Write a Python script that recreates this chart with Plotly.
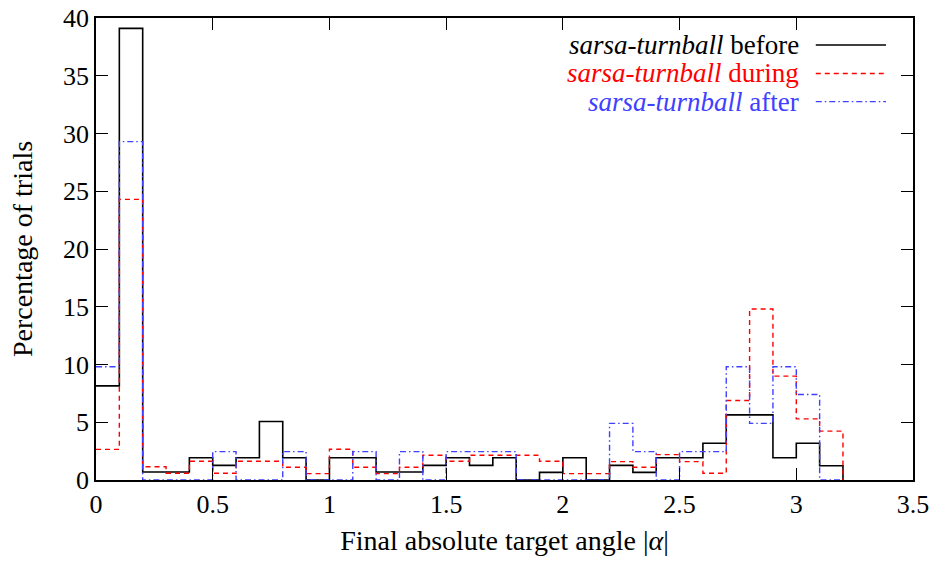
import numpy as np
import plotly.graph_objects as go

# Histogram of final absolute target angle |alpha|, bin width 0.1 rad (0 .. 3.2)
bin_width = 0.1
before = [8.15, 39.1, 0.69, 0.69, 1.93, 1.27, 1.93, 5.06, 1.93, 0.0,
          1.93, 1.93, 0.69, 0.69, 1.27, 1.93, 1.27, 1.93, 0.0, 0.66,
          1.93, 0.0, 1.27, 0.66, 1.93, 1.93, 3.18, 5.64, 5.64, 1.93,
          3.18, 1.24]
during = [2.65, 24.3, 1.15, 0.58, 1.62, 0.58, 1.62, 1.62, 1.1, 0.55,
          2.66, 1.1, 0.55, 1.1, 2.14, 1.62, 2.14, 2.14, 2.14, 1.62,
          0.55, 0.55, 1.59, 1.1, 2.2, 1.59, 0.58, 6.88, 14.81, 8.99,
          5.29, 4.23]
after = [9.8, 29.3, 0.0, 0.0, 0.0, 2.46, 0.0, 0.0, 2.46, 0.0,
         0.0, 2.46, 0.0, 2.46, 0.0, 2.46, 2.46, 2.46, 0.0, 0.0,
         0.0, 0.0, 4.9, 2.46, 0.0, 2.46, 2.46, 9.8, 4.9, 9.8,
         7.4, 0.0]

series_names = ["before", "during", "after"]
series_colors = ["#000000", "#ff0000", "#4040ff"]
series_dash = ["solid", "5px,4px", "6px,3px,1.5px,3px"]
series_width = [1.6, 1.4, 1.4]

x_ticks = [0, 0.5, 1, 1.5, 2, 2.5, 3, 3.5]
y_ticks = [0, 5, 10, 15, 20, 25, 30, 35, 40]

FONT = "Liberation Serif, serif"

fig = go.Figure()

for name, vals, col, dash, w in zip(series_names, [before, during, after],
                                     series_colors, series_dash, series_width):
    n = len(vals)
    edges = np.round(np.arange(n + 1) * bin_width, 3)
    xs = list(edges)
    ys = list(vals) + [0.0]
    fig.add_trace(go.Scatter(
        x=xs, y=ys, mode="lines", name="sarsa-turnball " + name,
        line=dict(shape="hv", color=col, width=w, dash=dash),
        showlegend=False, hoverinfo="skip", cliponaxis=True,
    ))

# Key in the upper right: label right-aligned, line sample to its right
key_y = [0.9416, 0.880, 0.819]
for name, col, dash, w, ky in zip(series_names, series_colors, series_dash,
                                  series_width, key_y):
    fig.add_annotation(
        xref="paper", yref="paper", x=0.863, y=ky,
        xanchor="right", yanchor="middle", showarrow=False,
        text="<i>sarsa-turnball</i> " + name,
        font=dict(family=FONT, size=27, color=col),
    )
    fig.add_shape(
        type="line", xref="paper", yref="paper",
        x0=0.881, x1=0.967, y0=ky, y1=ky,
        line=dict(color=col, width=w, dash=dash),
    )

axis_common = dict(
    showgrid=False, zeroline=False, showline=True, linecolor="black",
    linewidth=1.5, mirror="allticks", ticks="inside", ticklen=12,
    tickwidth=1.2, tickcolor="black", automargin=False,
    tickfont=dict(family=FONT, size=26, color="black"),
)

fig.update_xaxes(
    range=[0, 3.5], tickmode="array", tickvals=x_ticks,
    ticktext=[f"{t:g}" for t in x_ticks],
    title=dict(text="Final absolute target angle |<i>α</i>|",
               font=dict(family=FONT, size=28, color="black"), standoff=12),
    **axis_common,
)
fig.update_yaxes(
    range=[0, 40], tickmode="array", tickvals=y_ticks,
    ticktext=[str(t) for t in y_ticks],
    title=dict(text="Percentage of trials",
               font=dict(family=FONT, size=28, color="black"), standoff=22),
    **axis_common,
)

fig.update_layout(
    width=931, height=563,
    margin=dict(l=96, r=18, t=18, b=83),
    plot_bgcolor="white", paper_bgcolor="white",
    font=dict(family=FONT, color="black"),
    showlegend=False,
)

fig.write_html("out.html")
